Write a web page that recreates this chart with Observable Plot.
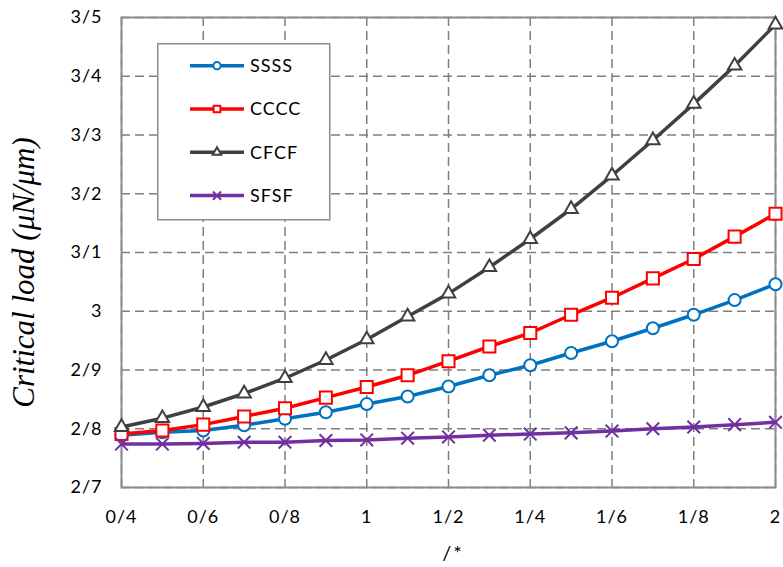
<!DOCTYPE html>
<html>
<head>
<meta charset="utf-8">
<script src="https://cdn.jsdelivr.net/npm/d3@7"></script>
<script src="https://cdn.jsdelivr.net/npm/@observablehq/plot@0.6"></script>
<style>
  body { margin: 0; background: white; }
  #wrap { position: relative; width: 783px; height: 567px; }
</style>
</head>
<body>
<div id="wrap"></div>
<script>
const xValues = [0.4, 0.5, 0.6, 0.7, 0.8, 0.9, 1.0, 1.1, 1.2, 1.3, 1.4, 1.5, 1.6, 1.7, 1.8, 1.9, 2.0];
const SSSS = [2.789, 2.794, 2.797, 2.806, 2.817, 2.828, 2.842, 2.855, 2.872, 2.891, 2.908, 2.929, 2.949, 2.971, 2.994, 3.019, 3.046];
const CCCC = [2.791, 2.797, 2.807, 2.821, 2.835, 2.853, 2.871, 2.891, 2.915, 2.940, 2.963, 2.994, 3.023, 3.056, 3.089, 3.127, 3.166];
const CFCF = [2.803, 2.818, 2.837, 2.860, 2.886, 2.917, 2.952, 2.991, 3.030, 3.075, 3.123, 3.174, 3.231, 3.291, 3.353, 3.418, 3.488];
const SFSF = [2.774, 2.774, 2.775, 2.777, 2.777, 2.780, 2.781, 2.784, 2.786, 2.789, 2.791, 2.793, 2.796, 2.800, 2.803, 2.807, 2.811];

const seriesNames = ["SSSS", "CCCC", "CFCF", "SFSF"];
const seriesColors = ["#0070C0", "#FF0000", "#404040", "#7030A0"];
const seriesSymbols = ["circle", "square", "triangle", "times"];
const seriesValues = [SSSS, CCCC, CFCF, SFSF];

const xTicks = [0.4, 0.6, 0.8, 1, 1.2, 1.4, 1.6, 1.8, 2];
const xTickLabels = ["0/4", "0/6", "0/8", "1", "1/2", "1/4", "1/6", "1/8", "2"];
const yTicks = [2.7, 2.8, 2.9, 3, 3.1, 3.2, 3.3, 3.4, 3.5];
const yTickLabels = ["2/7", "2/8", "2/9", "3", "3/1", "3/2", "3/3", "3/4", "3/5"];

const xLabel = "/*";
const yLabel = "Critical load (\u03BCN/\u03BCm)";

const markerR = {circle: 6, square: 6.8, triangle: 5, times: 5.8};

const seriesMarks = [];
seriesNames.forEach((name, k) => {
  const data = xValues.map((x, i) => ({x, y: seriesValues[k][i]}));
  const sym = seriesSymbols[k];
  seriesMarks.push(Plot.line(data, {x: "x", y: "y", stroke: seriesColors[k], strokeWidth: 3.5}));
  seriesMarks.push(Plot.dot(data, {
    x: "x", y: "y", symbol: sym, r: markerR[sym],
    fill: sym === "times" ? "none" : "white",
    stroke: seriesColors[k], strokeWidth: 2
  }));
});

const gridStyle = {stroke: "#7f7f7f", strokeOpacity: 1, strokeWidth: 1.5, strokeDasharray: "9,5"};

const chart = Plot.plot({
  width: 783,
  height: 567,
  marginLeft: 121,
  marginRight: 8,
  marginTop: 17,
  marginBottom: 80,
  style: {fontFamily: "Lato, sans-serif", background: "white", color: "#000"},
  x: {domain: [0.4, 2]},
  y: {domain: [2.7, 3.5]},
  marks: [
    Plot.gridX(xTicks, gridStyle),
    Plot.gridY(yTicks, gridStyle),
    Plot.axisX(xTicks, {
      tickSize: 0, tickPadding: 23, fontSize: 18,
      tickFormat: d => xTickLabels[xTicks.indexOf(d)],
      label: null
    }),
    Plot.axisY(yTicks, {
      tickSize: 0, tickPadding: 19, fontSize: 18,
      tickFormat: d => yTickLabels[yTicks.indexOf(d)],
      label: null
    }),
    Plot.frame({stroke: "#8c8c8c", strokeWidth: 2}),
    ...seriesMarks
  ]
});

const wrap = document.getElementById("wrap");
wrap.appendChild(chart);

const svg = d3.select(chart);
svg.selectAll('g[aria-label="x-axis tick label"] text, g[aria-label="y-axis tick label"] text')
  .style("letter-spacing", "1px");

// axis titles
svg.append("text")
  .attr("transform", "translate(34,272.5) rotate(-90)")
  .attr("text-anchor", "middle")
  .attr("font-family", "'Liberation Serif', 'DejaVu Serif', serif")
  .attr("font-style", "italic")
  .attr("font-size", 31)
  .attr("fill", "#000")
  .text(yLabel);
svg.append("text")
  .attr("x", 453).attr("y", 560)
  .attr("text-anchor", "middle")
  .attr("font-family", "Lato, sans-serif")
  .attr("font-size", 20)
  .attr("fill", "#000")
  .style("letter-spacing", "2px")
  .text(xLabel);

// legend
const lg = d3.select(wrap).append("svg")
  .style("position", "absolute").style("left", "157px").style("top", "43px")
  .attr("width", 174).attr("height", 178);
lg.append("rect").attr("x", 0.75).attr("y", 0.75).attr("width", 172).attr("height", 176)
  .attr("fill", "white").attr("stroke", "#8c8c8c").attr("stroke-width", 1.5);
const symMap = {circle: d3.symbolCircle, square: d3.symbolSquare, triangle: d3.symbolTriangle, times: d3.symbolTimes};
const legendR = {circle: 3.6, square: 3.8, triangle: 3.2, times: 3.8};
seriesNames.forEach((name, k) => {
  const g = lg.append("g").attr("transform", `translate(0,${22.7 + k * 43.3})`);
  g.append("line").attr("x1", 33).attr("x2", 87).attr("stroke", seriesColors[k]).attr("stroke-width", 3.5);
  const sym = seriesSymbols[k];
  const r = legendR[sym];
  g.append("path").attr("transform", "translate(60,0)")
    .attr("d", d3.symbol(symMap[sym], Math.PI * r * r)())
    .attr("fill", sym === "times" ? "none" : "white")
    .attr("stroke", seriesColors[k]).attr("stroke-width", 2);
  g.append("text").attr("x", 93).attr("dy", "0.36em")
    .attr("font-family", "Lato, sans-serif").attr("font-size", 18).style("letter-spacing", "1px")
    .text(name);
});
</script>
</body>
</html>
